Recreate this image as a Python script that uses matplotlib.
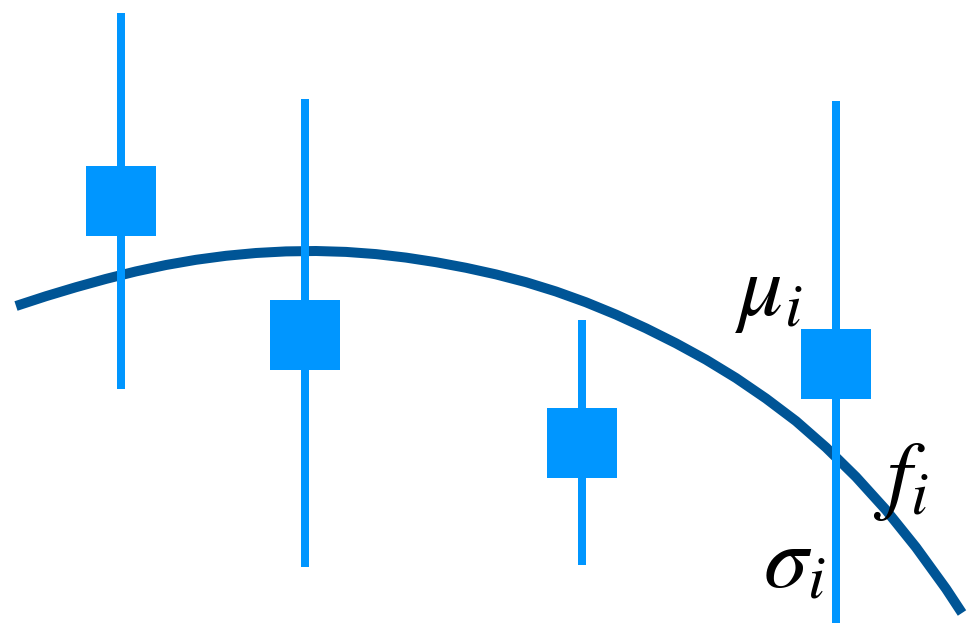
import matplotlib
matplotlib.use("Agg")
import matplotlib.pyplot as plt
import numpy as np

plt.rcParams["mathtext.fontset"] = "stix"

# Measurements: position, mean and the span of each error bar
obs_x = [121, 305, 582, 836]
obs_mu = [201, 335, 443, 364]
obs_top = [13, 99, 320, 101]
obs_bottom = [389, 567, 565, 623]

# Model curve f(x)
curve_x = [16, 46, 76, 106, 136, 166, 196, 226, 256, 286, 316,
           346, 376, 406, 436, 466, 496, 526, 556, 586, 616, 646,
           676, 706, 736, 766, 796, 826, 856, 886, 916, 946, 962]
curve_y = [306, 296.2, 287.2, 278.9, 271.4, 265.0, 259.8, 255.8, 253.0,
           251.4, 251.0, 251.9, 254.1, 257.6, 262.2, 267.8, 274.4, 282.2,
           291.5, 302.3, 314.6, 328.3, 343.3, 359.7, 378.0, 398.5, 421.1,
           447.4, 476.9, 510.0, 547.3, 588.7, 613]

# Annotations: label, x, baseline y
labels = [r"$\mu_i$", r"$f_i$", r"$\sigma_i$"]
label_x = [735, 873, 763]
label_y = [315, 503, 588]

BAR_COLOR = "#0096FF"
CURVE_COLOR = "#005596"

W, H, DPI = 971, 625, 100
fig = plt.figure(figsize=(W / DPI, H / DPI), dpi=DPI)
ax = fig.add_axes([0, 0, 1, 1])
ax.set_xlim(0, W)
ax.set_ylim(H, 0)
ax.axis("off")

px = 72.0 / DPI  # pixels -> points

ax.plot(curve_x, curve_y, color=CURVE_COLOR, lw=10 * px,
        solid_capstyle="butt", solid_joinstyle="round", zorder=1)

mu = np.array(obs_mu)
yerr = [mu - np.array(obs_top), np.array(obs_bottom) - mu]
ax.errorbar(obs_x, obs_mu, yerr=yerr, fmt="none", ecolor=BAR_COLOR,
            elinewidth=8 * px, capsize=0, zorder=2)
ax.plot(obs_x, obs_mu, linestyle="none", marker="s", markersize=70 * px,
        markerfacecolor=BAR_COLOR, markeredgewidth=0, zorder=3)

for txt, tx, ty in zip(labels, label_x, label_y):
    ax.text(tx, ty, txt, fontsize=64, ha="left", va="baseline",
            color="black", zorder=4)

fig.savefig("out.png", dpi=DPI)
